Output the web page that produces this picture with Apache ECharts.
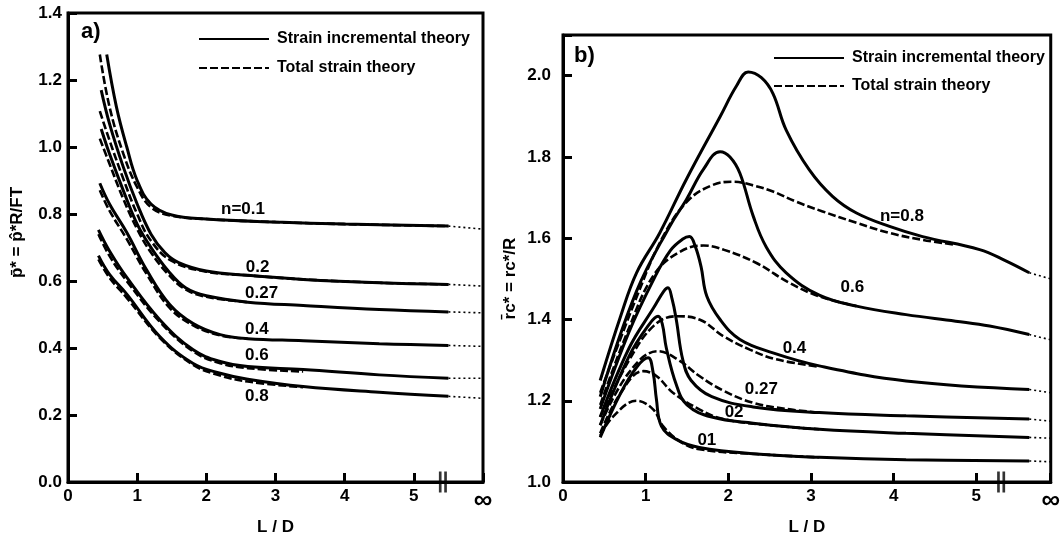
<!DOCTYPE html>
<html>
<head>
<meta charset="utf-8">
<script src="https://cdn.jsdelivr.net/npm/echarts@6/dist/echarts.min.js"></script>
<style>
  html, body { margin: 0; background: #fff; }
  #chart { width: 1063px; height: 541px; }
</style>
</head>
<body>
<div id="chart"></div>
<script>
// n values, in the order the curve arrays are listed
const nValues = ['0.1', '0.2', '0.27', '0.4', '0.6', '0.8'];

// ---- a) p* vs L/D ----
const aSolid01 = [[0.56, 1.276], [0.7, 1.12], [0.85, 1.0], [1.0, 0.9], [1.2, 0.83], [1.5, 0.797], [2.0, 0.785], [3.0, 0.776], [4.0, 0.77], [5.5, 0.764]];
const aSolid02 = [[0.48, 1.17], [0.6, 1.07], [0.8, 0.94], [1.0, 0.83], [1.2, 0.74], [1.4, 0.685], [1.6, 0.655], [2.0, 0.63], [2.6, 0.617], [3.4, 0.605], [4.5, 0.595], [5.5, 0.59]];
const aSolid027 = [[0.48, 1.054], [0.6, 0.98], [0.8, 0.87], [1.0, 0.77], [1.2, 0.70], [1.45, 0.63], [1.7, 0.58], [2.0, 0.556], [2.6, 0.537], [3.4, 0.527], [4.5, 0.515], [5.5, 0.508]];
const aSolid04 = [[0.46, 0.892], [0.6, 0.83], [0.85, 0.745], [1.14, 0.632], [1.47, 0.53], [1.81, 0.473], [2.2, 0.44], [2.6, 0.428], [3.4, 0.422], [4.5, 0.413], [5.5, 0.408]];
const aSolid06 = [[0.44, 0.753], [0.6, 0.69], [0.85, 0.611], [1.33, 0.484], [1.81, 0.395], [2.2, 0.36], [2.6, 0.345], [3.4, 0.336], [4.5, 0.32], [5.5, 0.31]];
const aSolid08 = [[0.44, 0.676], [0.6, 0.62], [0.85, 0.561], [1.33, 0.434], [1.81, 0.354], [2.2, 0.325], [2.6, 0.307], [3.4, 0.285], [4.5, 0.268], [5.5, 0.256]];

const aDash01 = [[0.46, 1.276], [0.6, 1.12], [0.8, 0.98], [1.0, 0.88], [1.2, 0.82], [1.5, 0.795], [2.0, 0.785], [3.0, 0.776], [4.0, 0.77], [5.5, 0.764]];
const aDash02 = [[0.46, 1.107], [0.6, 1.02], [0.8, 0.905], [1.0, 0.80], [1.2, 0.72], [1.5, 0.66], [2.0, 0.628], [2.6, 0.617], [3.4, 0.605], [4.5, 0.595], [5.5, 0.59]];
const aDash027 = [[0.46, 1.025], [0.6, 0.95], [0.8, 0.845], [1.0, 0.755], [1.2, 0.685], [1.45, 0.62], [1.7, 0.575], [2.0, 0.553], [2.6, 0.537]];
const aDash04 = [[0.46, 0.871], [0.6, 0.81], [0.85, 0.725], [1.14, 0.62], [1.47, 0.52], [1.81, 0.468], [2.2, 0.438], [2.6, 0.428]];
const aDash06 = [[0.44, 0.74], [0.6, 0.675], [0.85, 0.6], [1.33, 0.478], [1.81, 0.39], [2.2, 0.355], [2.6, 0.34], [3.4, 0.33]];
const aDash08 = [[0.44, 0.665], [0.6, 0.61], [0.85, 0.55], [1.33, 0.43], [1.81, 0.35], [2.2, 0.318], [2.6, 0.3], [3.4, 0.283]];

const aInfX = 6;
const aInf = [0.755, 0.585, 0.505, 0.405, 0.31, 0.25];
const aLabelText = ['n=0.1', '0.2', '0.27', '0.4', '0.6', '0.8'];
const aLabelAt = [[2.53, 0.815], [2.74, 0.64], [2.8, 0.563], [2.73, 0.457], [2.73, 0.377], [2.73, 0.257]];
const aBreakAt = [[5.42, 0]];

// ---- b) rc* vs L/D ----
const bSolid01 = [[0.45, 1.11], [0.7, 1.22], [0.9, 1.285], [1.03, 1.306], [1.09, 1.27], [1.13, 1.204], [1.19, 1.138], [1.37, 1.105], [1.65, 1.085], [2.34, 1.069], [3.1, 1.061], [4.15, 1.055], [5.64, 1.052]];
const bSolid02 = [[0.45, 1.14], [0.8, 1.31], [1.05, 1.39], [1.15, 1.408], [1.2, 1.39], [1.25, 1.33], [1.37, 1.24], [1.5, 1.19], [1.8, 1.16], [2.3, 1.145], [3.1, 1.13], [4.15, 1.12], [5.64, 1.11]];
const bSolid027 = [[0.45, 1.16], [0.8, 1.33], [1.1, 1.43], [1.22, 1.47], [1.27, 1.478], [1.32, 1.45], [1.37, 1.40], [1.45, 1.30], [1.55, 1.25], [1.8, 1.21], [2.3, 1.185], [3.1, 1.171], [4.15, 1.163], [5.64, 1.155]];
const bSolid04 = [[0.45, 1.18], [0.8, 1.37], [1.1, 1.50], [1.3, 1.57], [1.45, 1.598], [1.53, 1.604], [1.6, 1.58], [1.67, 1.53], [1.74, 1.457], [1.9, 1.40], [2.14, 1.351], [2.54, 1.318], [3.1, 1.286], [4.15, 1.249], [5.64, 1.228]];
const bSolid06 = [[0.45, 1.21], [0.89, 1.47], [1.29, 1.629], [1.49, 1.694], [1.7, 1.77], [1.9, 1.813], [2.02, 1.8], [2.14, 1.76], [2.3, 1.655], [2.46, 1.578], [2.7, 1.515], [3.1, 1.46], [3.55, 1.433], [4.15, 1.412], [4.75, 1.396], [5.16, 1.384], [5.64, 1.363]];
const bSolid08 = [[0.45, 1.25], [0.7, 1.41], [0.89, 1.515], [1.17, 1.613], [1.49, 1.744], [1.9, 1.899], [2.1, 1.975], [2.24, 2.009], [2.4, 1.995], [2.54, 1.956], [2.7, 1.866], [2.98, 1.768], [3.26, 1.703], [3.55, 1.662], [3.95, 1.629], [4.35, 1.604], [5.04, 1.572], [5.35, 1.545], [5.64, 1.515]];

const bDash01 = [[0.45, 1.114], [0.6, 1.16], [0.89, 1.20], [1.09, 1.179], [1.21, 1.138], [1.41, 1.101], [1.65, 1.081], [2.34, 1.069], [3.1, 1.061]];
const bDash02 = [[0.45, 1.12], [0.7, 1.22], [0.97, 1.273], [1.13, 1.261], [1.33, 1.22], [1.65, 1.179], [1.94, 1.155], [2.5, 1.14], [3.1, 1.13]];
const bDash027 = [[0.45, 1.14], [0.8, 1.27], [1.15, 1.322], [1.4, 1.30], [1.65, 1.261], [1.94, 1.225], [2.3, 1.195], [2.7, 1.18], [3.1, 1.171]];
const bDash04 = [[0.45, 1.16], [0.8, 1.30], [1.1, 1.385], [1.37, 1.408], [1.65, 1.40], [1.94, 1.359], [2.26, 1.326], [2.58, 1.302], [3.1, 1.284]];
const bDash06 = [[0.45, 1.19], [0.8, 1.38], [1.1, 1.51], [1.4, 1.565], [1.7, 1.582], [1.94, 1.572], [2.34, 1.539], [2.74, 1.49], [3.1, 1.457], [3.55, 1.433]];
const bDash08 = [[0.45, 1.22], [0.9, 1.46], [1.2, 1.6], [1.5, 1.69], [1.8, 1.73], [2.06, 1.739], [2.3, 1.73], [2.54, 1.715], [2.82, 1.69], [3.14, 1.666], [3.55, 1.638], [3.95, 1.613], [4.35, 1.596], [4.75, 1.584]];

const bInfX = 5.9;
const bInf = [1.05, 1.108, 1.15, 1.22, 1.35, 1.50];
const bLabelText = ['01', '02', '0.27', '0.4', '0.6', 'n=0.8'];
const bLabelAt = [[1.74, 1.103], [2.07, 1.172], [2.4, 1.228], [2.8, 1.33], [3.5, 1.48], [4.1, 1.655]];
const bBreakAt = [[5.3, 1.0]];

const aSolid = [aSolid01, aSolid02, aSolid027, aSolid04, aSolid06, aSolid08];
const aDash = [aDash01, aDash02, aDash027, aDash04, aDash06, aDash08];
const bSolid = [bSolid01, bSolid02, bSolid027, bSolid04, bSolid06, bSolid08];
const bDash = [bDash01, bDash02, bDash027, bDash04, bDash06, bDash08];

const SOLID = 'Strain incremental theory';
const DASHED = 'Total strain theory';
const FONT = 'Liberation Sans';
const ink = '#000';

function curve(name, data, idx, dashed) {
  return {
    name: name,
    type: 'line',
    xAxisIndex: idx,
    yAxisIndex: idx,
    data: data,
    smooth: 0.4,
    symbol: 'none',
    silent: true,
    itemStyle: { color: ink },
    lineStyle: { color: ink, width: dashed ? 2.6 : 3, type: dashed ? [8, 3] : 'solid' },
    z: dashed ? 3 : 4,
  };
}

function tail(from, x, y, idx) {
  return {
    type: 'line',
    xAxisIndex: idx,
    yAxisIndex: idx,
    data: [from, [x, y]],
    symbol: 'none',
    silent: true,
    lineStyle: { color: ink, width: 1.6, type: [2, 3] },
  };
}

function labels(texts, at, idx, size) {
  return {
    type: 'scatter',
    xAxisIndex: idx,
    yAxisIndex: idx,
    symbolSize: 0,
    itemStyle: { color: ink, opacity: 1 },
    silent: true,
    data: at.map((p, i) => ({ value: p, name: texts[i] })),
    label: {
      show: true,
      position: [0, 0],
      align: 'center',
      verticalAlign: 'middle',
      formatter: '{b}',
      color: ink,
      opacity: 1,
      textBorderWidth: 0,
      fontFamily: FONT,
      fontWeight: 'bold',
      fontSize: size,
    },
    z: 6,
  };
}

function breakMark(at, idx) {
  return {
    type: 'scatter',
    xAxisIndex: idx,
    yAxisIndex: idx,
    data: at,
    symbol: 'path://M0,0h3v20h-3zM6,0h3v20h-3z',
    symbolSize: [8, 21],
    itemStyle: { color: ink },
    silent: true,
    clip: false,
    z: 10,
  };
}

const series = [];
nValues.forEach((n, i) => {
  series.push(curve(SOLID, aSolid[i], 0, false));
  series.push(curve(DASHED, aDash[i], 0, true));
  series.push(tail(aSolid[i][aSolid[i].length - 1], aInfX, aInf[i], 0));
  series.push(curve(SOLID, bSolid[i], 1, false));
  series.push(curve(DASHED, bDash[i], 1, true));
  series.push(tail(bSolid[i][bSolid[i].length - 1], bInfX, bInf[i], 1));
});
series.push(labels(aLabelText, aLabelAt, 0, 17));
series.push(labels(bLabelText, bLabelAt, 1, 17));
series.push(breakMark(aBreakAt, 0));
series.push(breakMark(bBreakAt, 1));

const labelStyle = { color: ink, fontFamily: FONT, fontWeight: 'bold', fontSize: 17 };
const infRich = { inf: { fontSize: 26, fontWeight: 'bold', color: ink, fontFamily: FONT } };

function xAxis(idx, max, nameGap) {
  return {
    gridIndex: idx,
    type: 'value',
    min: 0,
    max: max,
    interval: 1,
    axisLine: { show: true, lineStyle: { color: ink, width: 3 } },
    axisTick: { show: true, inside: true, length: 9, lineStyle: { color: ink, width: 3 } },
    splitLine: { show: false },
    axisLabel: Object.assign({
      margin: 6,
      showMaxLabel: true,
      formatter: v => (v > 5.5 ? '{inf|∞}' : String(v)),
      rich: infRich,
    }, labelStyle),
    name: 'L / D',
    nameLocation: 'middle',
    nameGap: nameGap,
    nameTextStyle: labelStyle,
  };
}

function yAxis(idx, min, max, name, nameGap, margin, namePad) {
  return {
    gridIndex: idx,
    type: 'value',
    min: min,
    max: max,
    interval: 0.2,
    axisLine: { show: true, lineStyle: { color: ink, width: 3 } },
    axisTick: { show: true, inside: true, length: 9, lineStyle: { color: ink, width: 3 } },
    splitLine: { show: false },
    axisLabel: Object.assign({
      margin: margin,
      formatter: v => (Math.abs(v * 5 - Math.round(v * 5)) < 1e-6 ? v.toFixed(1) : ''),
    }, labelStyle),
    name: name,
    nameLocation: 'middle',
    nameGap: nameGap,
    nameTextStyle: Object.assign({ padding: namePad }, labelStyle),
  };
}

function legend(left, top, gap) {
  return {
    data: [SOLID, DASHED],
    orient: 'vertical',
    left: left,
    top: top,
    itemWidth: 70,
    itemHeight: 14,
    itemGap: gap,
    selectedMode: false,
    itemStyle: { color: 'rgba(0,0,0,0)', borderWidth: 0, opacity: 0 },
    textStyle: { color: ink, fontFamily: FONT, fontWeight: 'bold', fontSize: 16, padding: [0, 0, 0, 3] },
  };
}

const chart = echarts.init(document.getElementById('chart'));
chart.setOption({
  animation: false,
  backgroundColor: '#fff',
  title: [
    { text: 'a)', left: 76, top: 16, textStyle: { color: ink, fontFamily: FONT, fontWeight: 'bold', fontSize: 22 } },
    { text: 'b)', left: 569, top: 40, textStyle: { color: ink, fontFamily: FONT, fontWeight: 'bold', fontSize: 22 } },
  ],
  legend: [legend(193, 26, 13), legend(768, 45, 12)],
  grid: [
    { left: 68, top: 13, right: 580, bottom: 54, show: true, borderColor: ink, borderWidth: 3 },
    { left: 563, top: 35, right: 10, bottom: 58, show: true, borderColor: ink, borderWidth: 3 },
  ],
  xAxis: [xAxis(0, aInfX, 28), xAxis(1, bInfX, 32)],
  yAxis: [
    yAxis(0, 0, 1.4, 'p̄* = p̂*R/FT', 42, 6, [0, 0, 0, 30]),
    yAxis(1, 1.0, 2.1, 'r̄c* = rc*/R', 44, 12, [0, 40, 0, 0]),
  ],
  series: series,
});
</script>
</body>
</html>
